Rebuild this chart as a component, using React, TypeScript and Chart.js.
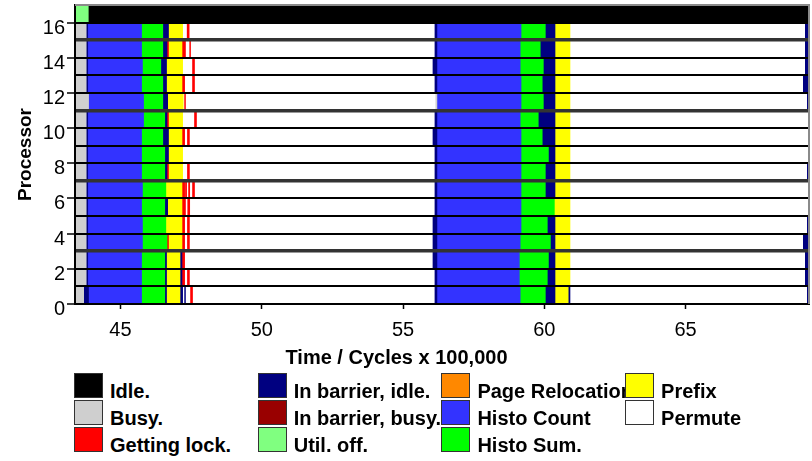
import { useEffect, useRef } from "react";
import { Chart, registerables } from "chart.js";

Chart.register(...registerables);

// One activity interval: [processor row, start, end] in units of 100,000 cycles.
type Seg = [number, number, number];

const FONT = "'Liberation Sans', Arial, Helvetica, sans-serif";

const X_MIN = 43.39;
const X_MAX = 69.37;
const X_TICKS = [45, 50, 55, 60, 65];
const Y_MAX = 17;
const Y_TICKS = [0, 1, 2, 3, 4, 5, 6, 7, 8, 9, 10, 11, 12, 13, 14, 15, 16];
const Y_LABELS = [0, 2, 4, 6, 8, 10, 12, 14, 16];
// boundaries between nodes (groups of four processors)
const NODE_BOUNDARIES = [3, 7, 11, 15];

const IDLE: Seg[] = [[16, 43.86, 69.37]];

const UTIL_OFF: Seg[] = [[16, 43.39, 43.86]];

const BUSY: Seg[] = [
  [15, 43.39, 43.81], [14, 43.39, 43.81], [13, 43.39, 43.81], [12, 43.39, 43.81],
  [11, 43.39, 43.87], [10, 43.39, 43.81], [9, 43.39, 43.81], [8, 43.39, 43.81],
  [7, 43.39, 43.81], [6, 43.39, 43.81], [5, 43.39, 43.81], [4, 43.39, 43.81],
  [3, 43.39, 43.81], [2, 43.39, 43.81], [1, 43.39, 43.81], [0, 43.39, 43.72],
  [11, 56.16, 56.2],
];

const GETTING_LOCK: Seg[] = [
  [15, 47.36, 47.43],
  [14, 46.67, 46.7], [14, 47.2, 47.3], [14, 47.45, 47.48],
  [13, 47.55, 47.62],
  [12, 47.2, 47.27], [12, 47.55, 47.62],
  [11, 47.27, 47.3],
  [10, 46.67, 46.7], [10, 47.62, 47.69],
  [9, 47.2, 47.27], [9, 47.37, 47.44],
  [7, 46.67, 46.7], [7, 47.37, 47.44],
  [6, 47.2, 47.27], [6, 47.3, 47.34], [6, 47.41, 47.45], [6, 47.55, 47.62],
  [5, 47.2, 47.3], [5, 47.38, 47.45],
  [4, 47.2, 47.27], [4, 47.37, 47.44],
  [3, 46.67, 46.7], [3, 47.2, 47.27], [3, 47.37, 47.44],
  [2, 47.2, 47.27],
  [1, 47.2, 47.27], [1, 47.37, 47.44],
  [0, 47.48, 47.55],
];

const BARRIER_IDLE: Seg[] = [
  [15, 43.81, 43.84], [15, 46.52, 46.7], [15, 56.13, 56.2], [15, 60.06, 60.38], [15, 69.24, 69.37],
  [14, 43.81, 43.84], [14, 46.52, 46.67], [14, 56.13, 56.2], [14, 59.88, 60.38], [14, 69.24, 69.37],
  [13, 43.81, 43.84], [13, 46.45, 46.63], [13, 56.06, 56.2], [13, 59.99, 60.38], [13, 69.24, 69.37],
  [12, 43.81, 43.84], [12, 46.52, 46.63], [12, 56.13, 56.2], [12, 59.95, 60.38], [12, 69.17, 69.37],
  [11, 46.52, 46.67], [11, 59.99, 60.38], [11, 69.31, 69.37],
  [10, 43.81, 43.84], [10, 46.59, 46.67], [10, 56.13, 56.2], [10, 59.81, 60.38],
  [9, 43.81, 43.84], [9, 46.52, 46.7], [9, 56.06, 56.2], [9, 59.95, 60.38],
  [8, 43.81, 43.84], [8, 46.59, 46.7], [8, 56.13, 56.2], [8, 60.17, 60.38],
  [7, 43.81, 43.84], [7, 46.59, 46.67], [7, 56.13, 56.2], [7, 60.06, 60.38], [7, 69.31, 69.37],
  [6, 43.81, 43.84], [6, 56.13, 56.2], [6, 60.06, 60.38],
  [5, 43.81, 43.84], [5, 46.59, 46.67], [5, 56.13, 56.2],
  [4, 43.81, 43.84], [4, 56.06, 56.2], [4, 60.13, 60.38], [4, 69.31, 69.37],
  [3, 43.81, 43.84], [3, 56.06, 56.2], [3, 60.24, 60.38], [3, 69.17, 69.37],
  [2, 43.81, 43.84], [2, 46.59, 46.63], [2, 47.13, 47.2], [2, 56.06, 56.2], [2, 60.17, 60.38], [2, 69.24, 69.37],
  [1, 43.81, 43.84], [1, 46.59, 46.63], [1, 47.13, 47.2], [1, 56.13, 56.2], [1, 60.13, 60.38], [1, 69.24, 69.37],
  [0, 43.72, 43.87], [0, 46.59, 46.63], [0, 47.13, 47.2], [0, 47.27, 47.3], [0, 56.13, 56.2],
  [0, 60.06, 60.38], [0, 60.87, 60.91], [0, 69.31, 69.37],
];

const BARRIER_BUSY: Seg[] = [];

const PAGE_RELOCATION: Seg[] = [];

const HISTO_COUNT: Seg[] = [
  [15, 43.84, 45.77], [15, 56.2, 59.2],
  [14, 43.84, 45.77], [14, 56.2, 59.17],
  [13, 43.84, 45.8], [13, 56.2, 59.17],
  [12, 43.84, 45.77], [12, 56.2, 59.2],
  [11, 43.87, 45.84], [11, 56.2, 59.2],
  [10, 43.84, 45.84], [10, 56.2, 59.17],
  [9, 43.84, 45.77], [9, 56.2, 59.2],
  [8, 43.84, 45.77], [8, 56.2, 59.2],
  [7, 43.84, 45.77], [7, 56.2, 59.2],
  [6, 43.84, 45.8], [6, 56.2, 59.2],
  [5, 43.84, 45.77], [5, 56.2, 59.2],
  [4, 43.84, 45.8], [4, 56.2, 59.2],
  [3, 43.84, 45.8], [3, 56.2, 59.17],
  [2, 43.84, 45.77], [2, 56.2, 59.14],
  [1, 43.84, 45.77], [1, 56.2, 59.14],
  [0, 43.87, 45.77], [0, 56.2, 59.17],
];

const HISTO_SUM: Seg[] = [
  [15, 45.77, 46.52], [15, 59.2, 60.06],
  [14, 45.77, 46.52], [14, 59.17, 59.88],
  [13, 45.8, 46.45], [13, 59.17, 59.99],
  [12, 45.77, 46.52], [12, 59.2, 59.95],
  [11, 45.84, 46.52], [11, 59.2, 59.99],
  [10, 45.84, 46.59], [10, 59.17, 59.81],
  [9, 45.77, 46.52], [9, 59.2, 59.95],
  [8, 45.77, 46.59], [8, 59.2, 60.17],
  [7, 45.77, 46.59], [7, 59.2, 60.06],
  [6, 45.8, 46.63], [6, 59.2, 60.06],
  [5, 45.77, 46.59], [5, 59.2, 60.38],
  [4, 45.8, 46.63], [4, 59.2, 60.13],
  [3, 45.8, 46.67], [3, 59.17, 60.24],
  [2, 45.77, 46.59], [2, 59.14, 60.17],
  [1, 45.77, 46.59], [1, 59.14, 60.13],
  [0, 45.77, 46.59], [0, 59.17, 60.06],
];

const PREFIX: Seg[] = [
  [15, 46.7, 47.2], [15, 60.38, 60.91],
  [14, 46.7, 47.2], [14, 60.38, 60.91],
  [13, 46.63, 47.2], [13, 60.38, 60.91],
  [12, 46.63, 47.2], [12, 60.38, 60.91],
  [11, 46.67, 47.22], [11, 60.38, 60.91],
  [10, 46.7, 47.2], [10, 60.38, 60.91],
  [9, 46.7, 47.2], [9, 60.38, 60.91],
  [8, 46.7, 47.2], [8, 60.38, 60.91],
  [7, 46.7, 47.2], [7, 60.38, 60.91],
  [6, 46.63, 47.2], [6, 60.38, 60.91],
  [5, 46.67, 47.2], [5, 60.38, 60.91],
  [4, 46.63, 47.2], [4, 60.38, 60.91],
  [3, 46.7, 47.2], [3, 60.38, 60.91],
  [2, 46.63, 47.13], [2, 60.38, 60.91],
  [1, 46.63, 47.13], [1, 60.38, 60.91],
  [0, 46.63, 47.13], [0, 60.38, 60.87],
];

const PERMUTE: Seg[] = [
  [15, 47.2, 56.13], [15, 60.91, 69.24],
  [14, 47.2, 56.13], [14, 60.91, 69.24],
  [13, 47.2, 56.06], [13, 60.91, 69.24],
  [12, 47.2, 56.13], [12, 60.91, 69.17],
  [11, 47.22, 56.16], [11, 60.91, 69.31],
  [10, 47.2, 56.13], [10, 60.91, 69.37],
  [9, 47.2, 56.06], [9, 60.91, 69.37],
  [8, 47.2, 56.13], [8, 60.91, 69.37],
  [7, 47.2, 56.13], [7, 60.91, 69.31],
  [6, 47.2, 56.13], [6, 60.91, 69.37],
  [5, 47.2, 56.13], [5, 60.91, 69.37],
  [4, 47.2, 56.06], [4, 60.91, 69.31],
  [3, 47.2, 56.06], [3, 60.91, 69.17],
  [2, 47.2, 56.06], [2, 60.91, 69.24],
  [1, 47.2, 56.13], [1, 60.91, 69.24],
  [0, 47.2, 56.13], [0, 60.91, 69.31],
];

// Legend order (filled column by column, three entries per column).
// `order`: lower values are painted on top.
const STATES = [
  { label: "Idle.", color: "#000000", segs: IDLE, order: 8 },
  { label: "Busy.", color: "#cfcfcf", segs: BUSY, order: 3 },
  { label: "Getting lock.", color: "#ff0000", segs: GETTING_LOCK, order: 0 },
  { label: "In barrier, idle.", color: "#000080", segs: BARRIER_IDLE, order: 1 },
  { label: "In barrier, busy.", color: "#990000", segs: BARRIER_BUSY, order: 2 },
  { label: "Util. off.", color: "#80ff80", segs: UTIL_OFF, order: 7 },
  { label: "Page Relocation", color: "#ff8800", segs: PAGE_RELOCATION, order: 9 },
  { label: "Histo Count", color: "#3333ff", segs: HISTO_COUNT, order: 6 },
  { label: "Histo Sum.", color: "#00ff00", segs: HISTO_SUM, order: 5 },
  { label: "Prefix", color: "#ffff00", segs: PREFIX, order: 4 },
  { label: "Permute", color: "#ffffff", segs: PERMUTE, order: 10 },
];

// Gray frame along the top and right of the plot area.
const framePlugin = {
  id: "plotFrame",
  afterDraw(chart: any) {
    const { ctx, chartArea } = chart;
    const { left, right, top, bottom } = chartArea;
    ctx.save();
    ctx.strokeStyle = "#8a8a8a";
    ctx.lineWidth = 2;
    ctx.beginPath();
    ctx.moveTo(left, top);
    ctx.lineTo(right, top);
    ctx.lineTo(right, bottom);
    ctx.stroke();
    ctx.restore();
  },
};

const tickValue = (c: any) => (c && c.tick ? c.tick.value : -1);

export default function App() {
  const canvasRef = useRef<HTMLCanvasElement>(null);

  useEffect(() => {
    if (!canvasRef.current) return;
    const datasets = STATES.map((s) => ({
      label: s.label,
      data: s.segs.map(([row, start, end]) => ({ y: row + 0.5, x: [start, end] })),
      backgroundColor: s.color,
      borderWidth: 0,
      order: s.order,
      grouped: false,
      barPercentage: 1,
      categoryPercentage: 1,
    }));

    const chart = new Chart(canvasRef.current, {
      type: "bar",
      data: { datasets } as any,
      plugins: [framePlugin],
      options: {
        indexAxis: "y",
        animation: false,
        responsive: false,
        layout: { padding: { top: 5, right: 3, left: 0, bottom: 0 } },
        plugins: {
          legend: { display: false },
          tooltip: { enabled: false },
        },
        scales: {
          x: {
            type: "linear",
            position: "bottom",
            min: X_MIN,
            max: X_MAX,
            offset: false,
            afterBuildTicks: (s: any) => {
              s.ticks = X_TICKS.map((v) => ({ value: v }));
            },
            afterFit: (s: any) => {
              s.height = 61;
              s.paddingLeft = 0;
              s.paddingRight = 0;
            },
            grid: {
              z: 1,
              offset: false,
              drawOnChartArea: false,
              drawTicks: true,
              tickLength: 5,
              color: "#000",
              tickWidth: 1.5,
            },
            border: { display: true, color: "#000", width: 2, z: 1 },
            ticks: {
              padding: 9,
              color: "#000",
              autoSkip: false,
              maxRotation: 0,
              font: { family: FONT, size: 20 },
              callback: (v: any) => String(v),
            },
          },
          y: {
            type: "linear",
            min: 0,
            max: Y_MAX,
            offset: false,
            afterBuildTicks: (s: any) => {
              s.ticks = Y_TICKS.map((v) => ({ value: v }));
            },
            afterFit: (s: any) => {
              s.width = 75;
              s.paddingTop = 0;
              s.paddingBottom = 0;
            },
            grid: {
              z: 1,
              offset: false,
              drawOnChartArea: true,
              drawTicks: true,
              tickLength: 8,
              tickWidth: 1.5,
              color: (c: any) => {
                const v = tickValue(c);
                if (v <= 0) return "rgba(0,0,0,0)";
                return NODE_BOUNDARIES.includes(v) ? "#333333" : "#000000";
              },
              lineWidth: (c: any) => (NODE_BOUNDARIES.includes(tickValue(c)) ? 3.5 : 2),
              tickColor: (c: any) => (Y_LABELS.includes(tickValue(c)) ? "#000" : "rgba(0,0,0,0)"),
            },
            border: { display: true, color: "#000", width: 2, z: 1 },
            ticks: {
              padding: 2,
              labelOffset: 5.5,
              color: "#000",
              autoSkip: false,
              font: { family: FONT, size: 20 },
              callback: (v: any) => (Y_LABELS.includes(v) ? String(v) : ""),
            },
            title: {
              display: true,
              text: "Processor",
              color: "#000",
              font: { family: FONT, size: 19, weight: "bold" },
              padding: { top: 14, bottom: 0 },
            },
          },
        },
      } as any,
    });
    return () => chart.destroy();
  }, []);

  return (
    <div
      style={{
        position: "absolute",
        left: 0,
        top: 0,
        width: 812,
        height: 461,
        background: "#fff",
        fontFamily: FONT,
        color: "#000",
        overflow: "hidden",
      }}
    >
      <canvas
        ref={canvasRef}
        width={812}
        height={365}
        style={{ position: "absolute", left: 0, top: 0, width: 812, height: 365 }}
      />
      <div
        style={{
          position: "absolute",
          left: 396.5,
          top: 346,
          transform: "translateX(-50%)",
          fontWeight: "bold",
          fontSize: 20,
          lineHeight: "22px",
          whiteSpace: "nowrap",
        }}
      >
        Time / Cycles x 100,000
      </div>
      {STATES.map((s, i) => {
        const col = Math.floor(i / 3);
        const row = i % 3;
        const left = 74 + col * 183.7;
        const top = 373 + row * 27;
        return (
          <div key={s.label}>
            <div
              style={{
                position: "absolute",
                left: left + 36,
                top: top + 6.5,
                fontWeight: "bold",
                fontSize: 20,
                lineHeight: "22px",
                whiteSpace: "nowrap",
              }}
            >
              {s.label}
            </div>
            <div
              style={{
                position: "absolute",
                left,
                top,
                width: 29,
                height: 25,
                boxSizing: "border-box",
                border: "1.5px solid #333",
                background: s.color,
              }}
            />
          </div>
        );
      })}
    </div>
  );
}
